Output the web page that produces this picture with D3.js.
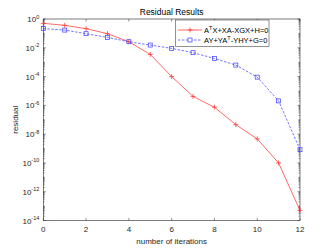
<!DOCTYPE html>
<html><head><meta charset="utf-8">
<script src="https://cdn.jsdelivr.net/npm/d3@7"></script>
<style>body{margin:0;background:#fff}svg{display:block;font-family:"Liberation Sans",Arial,sans-serif}</style>
</head><body><svg id="c" width="332" height="249"></svg>
<script>
const iterations = [0,1,2,3,4,5,6,7,8,9,10,11,12];
const redLogResidual = [-0.30,-0.44,-0.67,-1.02,-1.58,-2.46,-4.0,-5.38,-6.13,-7.34,-8.33,-10.0,-13.3];
const blueLogResidual = [-0.67,-0.77,-1.02,-1.28,-1.58,-1.81,-2.04,-2.34,-2.74,-3.2,-4.04,-5.69,-9.08];
const xTicks = [0,2,4,6,8,10,12];
const yTickExps = [0,-2,-4,-6,-8,-10,-12,-14];

const svg = d3.select("#c");
const L=43.3,R=300,T=19,B=220.5;
const x = d3.scaleLinear().domain([0,12]).range([L,R]);
const y = d3.scaleLog().domain([1e-14,1]).range([B,T]);
const ax="#262626";
// box
svg.append("rect").attr("x",L).attr("y",T).attr("width",R-L).attr("height",B-T).attr("fill","#fff");
const g=svg.append("g");
// x ticks
xTicks.forEach(v=>{
  g.append("line").attr("x1",x(v)).attr("x2",x(v)).attr("y1",B).attr("y2",B-2.6).attr("stroke",ax).attr("stroke-width",0.5);
  g.append("line").attr("x1",x(v)).attr("x2",x(v)).attr("y1",T).attr("y2",T+2.6).attr("stroke",ax).attr("stroke-width",0.5);
  g.append("text").attr("x",x(v)).attr("y",B+11).attr("text-anchor","middle").attr("font-size",8).attr("fill",ax).text(v);
});
// y ticks
for(let e=-14;e<=0;e++){
  const major = yTickExps.includes(e);
  const len = major?2.6:1.4;
  [L,R].forEach((xx,i)=>{
    const d=i===0?1:-1;
    g.append("line").attr("x1",xx).attr("x2",xx+d*len).attr("y1",y(Math.pow(10,e))).attr("y2",y(Math.pow(10,e))).attr("stroke",ax).attr("stroke-width",0.5);
  });
  if(e<0){
    for(let m=2;m<=9;m++){
      const v=m*Math.pow(10,e);
      [L,R].forEach((xx,i)=>{const d=i===0?1:-1;
        g.append("line").attr("x1",xx).attr("x2",xx+d*1.4).attr("y1",y(v)).attr("y2",y(v)).attr("stroke",ax).attr("stroke-width",0.5);});
    }
  }
}
yTickExps.forEach(e=>{
  const t=g.append("text").attr("x",L-4).attr("y",y(Math.pow(10,e))+3).attr("text-anchor","end").attr("font-size",8).attr("fill",ax);
  t.append("tspan").text("10");
  t.append("tspan").attr("dy",-3.5).attr("font-size",5.5).text(e);
});
svg.append("rect").attr("x",L).attr("y",T).attr("width",R-L).attr("height",B-T).attr("fill","none").attr("stroke",ax).attr("stroke-width",0.6);

// lines
const line = d3.line().x((d,i)=>x(iterations[i])).y(d=>y(Math.pow(10,d)));
svg.append("path").datum(redLogResidual).attr("d",line).attr("fill","none").attr("stroke","#ff2a2a").attr("stroke-width",0.7);
svg.append("path").datum(blueLogResidual).attr("d",line).attr("fill","none").attr("stroke","#3a3aff").attr("stroke-width",0.7).attr("stroke-dasharray","2.5,1.5");
redLogResidual.forEach((d,i)=>{
  const cx=x(iterations[i]),cy=y(Math.pow(10,d));
  svg.append("path").attr("d",`M${cx-2.5},${cy}H${cx+2.5}M${cx},${cy-2.5}V${cy+2.5}`).attr("stroke","#ff2a2a").attr("stroke-width",0.7);
});
blueLogResidual.forEach((d,i)=>{
  const cx=x(iterations[i]),cy=y(Math.pow(10,d));
  svg.append("rect").attr("x",cx-2).attr("y",cy-2).attr("width",4).attr("height",4).attr("fill","none").attr("stroke","#3a3aff").attr("stroke-width",0.7);
});

// title and labels
svg.append("text").attr("x",(L+R)/2).attr("y",15).attr("text-anchor","middle").attr("font-size",8.5).attr("fill","#000").text("Residual Results");
svg.append("text").attr("x",(L+R)/2).attr("y",244).attr("text-anchor","middle").attr("font-size",8).attr("fill",ax).text("number of iterations");
svg.append("text").attr("transform",`translate(18,${(T+B)/2}) rotate(-90)`).attr("text-anchor","middle").attr("font-size",8).attr("fill",ax).text("residual");

// legend
const lg=svg.append("g");
lg.append("rect").attr("x",175.7).attr("y",20).attr("width",93.3).attr("height",26.7).attr("fill","#fff").attr("stroke",ax).attr("stroke-width",0.5);
lg.append("line").attr("x1",178).attr("x2",202).attr("y1",30).attr("y2",30).attr("stroke","#ff2a2a").attr("stroke-width",0.7);
lg.append("path").attr("d","M187.5,30H192.5M190,27.5V32.5").attr("stroke","#ff2a2a").attr("stroke-width",0.7);
lg.append("line").attr("x1",178).attr("x2",202).attr("y1",40).attr("y2",40).attr("stroke","#3a3aff").attr("stroke-width",0.7).attr("stroke-dasharray","2.5,1.5");
lg.append("rect").attr("x",188).attr("y",38).attr("width",4).attr("height",4).attr("fill","#fff").attr("stroke","#3a3aff").attr("stroke-width",0.7);
const t1=lg.append("text").attr("x",204).attr("y",33).attr("font-size",7.5).attr("fill","#000");
t1.append("tspan").text("A");t1.append("tspan").attr("dy",-3).attr("font-size",5.5).text("T");
t1.append("tspan").attr("dy",3).text("X+XA-XGX+H=0");
const t2=lg.append("text").attr("x",204).attr("y",43).attr("font-size",7.5).attr("fill","#000");
t2.append("tspan").text("AY+YA");t2.append("tspan").attr("dy",-3).attr("font-size",5.5).text("T");
t2.append("tspan").attr("dy",3).text("-YHY+G=0");
</script></body></html>
